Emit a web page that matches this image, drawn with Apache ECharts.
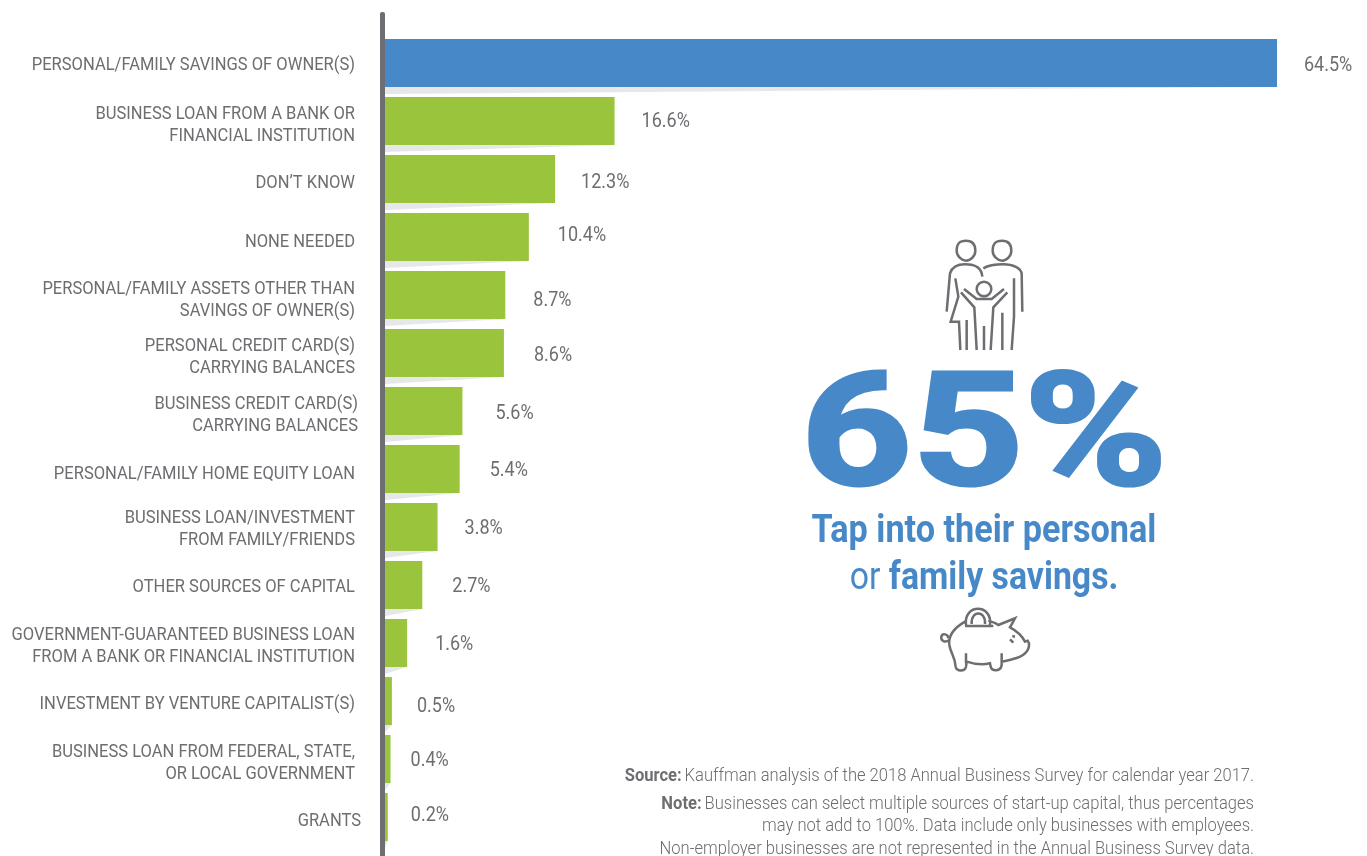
<!DOCTYPE html>
<html><head><meta charset="utf-8">
<style>html,body{margin:0;padding:0;background:#fff}#c{width:1367px;height:856px}</style>
<script src="https://cdn.jsdelivr.net/npm/echarts@6/dist/echarts.min.js"></script>
</head><body><div id="c"></div>
<script>
const categories = [
  "PERSONAL/FAMILY SAVINGS OF OWNER(S)",
  "BUSINESS LOAN FROM A BANK OR\nFINANCIAL INSTITUTION",
  "DON\u2019T KNOW",
  "NONE NEEDED",
  "PERSONAL/FAMILY ASSETS OTHER THAN\nSAVINGS OF OWNER(S)",
  "PERSONAL CREDIT CARD(S)\nCARRYING BALANCES",
  "BUSINESS CREDIT CARD(S)\nCARRYING BALANCES",
  "PERSONAL/FAMILY HOME EQUITY LOAN",
  "BUSINESS LOAN/INVESTMENT\nFROM FAMILY/FRIENDS",
  "OTHER SOURCES OF CAPITAL",
  "GOVERNMENT-GUARANTEED BUSINESS LOAN\nFROM A BANK OR FINANCIAL INSTITUTION",
  "INVESTMENT BY VENTURE CAPITALIST(S)",
  "BUSINESS LOAN FROM FEDERAL, STATE,\nOR LOCAL GOVERNMENT",
  "GRANTS"
];
const shares = [64.5,16.6,12.3,10.4,8.7,8.6,5.6,5.4,3.8,2.7,1.6,0.5,0.4,0.2];
const valueGapX = [27,27,26,29,28,30,33,30,27,30,28,25,20,23];
const valueShiftY = [1,-1,2,-3,4,1,1,0,0,0,0,4,0,-3];
const catShiftX = [0,0,0,0,0,0,3,0,0,0,0,0,0,6];
const catShiftY = [0,2,2,3,3,2,2,3,0,0,1,1,2,2];

const BLUE='#4789c8', GREEN='#9ac43c', GREY='#6d6e71', SHADOW='#e6e7e8';

echarts.graphic.registerShape('familyIcon', echarts.graphic.extendPath(
 'M558,62C535,62 530,75 530,92C530,108 545,122 558,122C572,122 586,108 586,92C586,75 580,62 558,62Z'+
 'M666,62C643,62 638,75 638,92C638,108 653,122 666,122C680,122 694,108 694,92C694,75 688,62 666,62Z'+
 'M607,170C605,145 590,133 555,133C530,133 515,145 510,160L500,275'+
 'M526,175L535,230L512,305L537,305L541,390M560,300V390'+
 'M610,145C630,133 650,133 670,133C700,133 722,145 725,160L727,275'+
 'M702,175V290L695,390M667,278V390'+
 'M634,207C634,195 624,185 612,185C600,185 590,195 590,207C590,219 600,229 612,229C624,229 634,219 634,207Z'+
 'M552,207L590,237H635L672,207M543,217L583,262L590,390M682,217L640,262L632,390M612,318V390',{}));
echarts.graphic.registerShape('pigIcon', echarts.graphic.extendPath(
 'M555,1205C520,1225 505,1250 508,1275C512,1300 525,1310 527,1340C530,1355 555,1355 558,1340L560,1325'+
 'C590,1335 610,1335 630,1330L632,1340C636,1355 662,1355 665,1335L665,1325C700,1318 725,1312 738,1297'+
 'C748,1287 750,1270 743,1262L735,1265C725,1245 705,1230 690,1222L705,1195L655,1215C645,1208 635,1205 625,1202'+
 'M555,1218H640M558,1215C550,1150 638,1150 630,1215M575,1212C572,1170 618,1170 615,1212'+
 'M558,1300V1330M665,1300V1330M508,1260C495,1270 482,1262 484,1250C487,1238 505,1242 505,1255'+
 'M697,1248L705,1250M690,1258L700,1268',{}));

const footRich={n:{fontFamily:'Roboto',fontSize:19,fontWeight:300,fill:GREY},b:{fontFamily:'Roboto',fontSize:19,fontWeight:700,fill:GREY}};
const chart = echarts.init(document.getElementById('c'), null, {renderer:'canvas'});
chart.setOption({
  animation:false,
  backgroundColor:'#fff',
  grid:{left:385, right:90, top:34, bottom:10, outerBoundsMode:'none'},
  xAxis:{type:'value', min:0, max:64.5, show:false},
  yAxis:{type:'category', inverse:true, data:categories,
    axisLine:{show:false}, axisTick:{show:false}, axisLabel:{show:false}},
  series:[
    {type:'custom', name:'shadow', silent:true, z:1, clip:false,
     data:shares.map((v,i)=>[v,i]),
     encode:{x:0,y:1},
     renderItem(params,api){
       const end=api.coord([api.value(0),api.value(1)]);
       const start=api.coord([0,api.value(1)]);
       const b=start[1]+24;
       return {type:'polygon',shape:{points:[[start[0],b],[end[0],b],[start[0],b+7]]},style:{fill:SHADOW}};
     }},
    {type:'bar', name:'Share', z:2, barWidth:48,
     data:shares.map((v,i)=>({value:v, itemStyle:{color:i===0?BLUE:GREEN}}))},
    {type:'custom', name:'labels', silent:true, z:3, clip:false,
     data:shares.map((v,i)=>[v,i]),
     encode:{x:0,y:1},
     renderItem(params,api){
       const i=api.value(1);
       const end=api.coord([api.value(0),i]);
       const start=api.coord([0,i]);
       return {type:'group',children:[
         {type:'text',x:355+catShiftX[i],y:start[1]+catShiftY[i]+2,scaleX:.87,
          style:{text:categories[i],fill:GREY,font:'400 19px Roboto',lineHeight:22.5,align:'right',verticalAlign:'middle'}},
         {type:'text',x:end[0]+valueGapX[i],y:end[1]+valueShiftY[i]+2,scaleX:.9,
          style:{text:api.value(0)+'%',fill:GREY,font:'400 20px Roboto',align:'left',verticalAlign:'middle'}}
       ]};
     }}
  ],
  graphic:{elements:[
    {type:'rect', z:10, shape:{x:380,y:12,width:5,height:844,r:[2,2,0,0]}, style:{fill:GREY}},
    {type:'familyIcon', x:780, y:220, scaleX:1/3, scaleY:1/3, shape:{}, style:{fill:null, stroke:GREY, lineWidth:7.5}},
    {type:'pigIcon', x:780, y:220, scaleX:1/3, scaleY:1/3, shape:{}, style:{fill:null, stroke:GREY, lineWidth:7.5}},
    {type:'text', x:984, y:444, scaleX:1.23, style:{text:'65%', fill:BLUE, stroke:BLUE, lineWidth:3, font:'700 158px Roboto', align:'center', verticalAlign:'middle'}},
    {type:'text', x:984, y:532, scaleX:.9, style:{text:'Tap into their personal', fill:BLUE, font:'700 38px Roboto', align:'center', verticalAlign:'middle'}},
    {type:'text', x:984, y:579, scaleX:.89, style:{text:'{n|or }{b|family savings.}', fill:BLUE, align:'center', verticalAlign:'middle',
      rich:{n:{fontFamily:'Roboto',fontSize:38,fontWeight:400,fill:BLUE},b:{fontFamily:'Roboto',fontSize:38,fontWeight:700,fill:BLUE}}}},
    {type:'text', x:1254, y:776, scaleX:.872, style:{text:'{b|Source:} {n|Kauffman analysis of the 2018 Annual Business Survey for calendar year 2017.}', align:'right', verticalAlign:'middle', rich:footRich}},
    {type:'text', x:1254, y:804, scaleX:.872, style:{text:'{b|Note:} {n|Businesses can select multiple sources of start-up capital, thus percentages}', align:'right', verticalAlign:'middle', rich:footRich}},
    {type:'text', x:1254, y:826, scaleX:.872, style:{text:'may not add to 100%. Data include only businesses with employees.', fill:GREY, font:'300 19px Roboto', align:'right', verticalAlign:'middle'}},
    {type:'text', x:1254, y:849, scaleX:.872, style:{text:'Non-employer businesses are not represented in the Annual Business Survey data.', fill:GREY, font:'300 19px Roboto', align:'right', verticalAlign:'middle'}}
  ]}
});
</script></body></html>
